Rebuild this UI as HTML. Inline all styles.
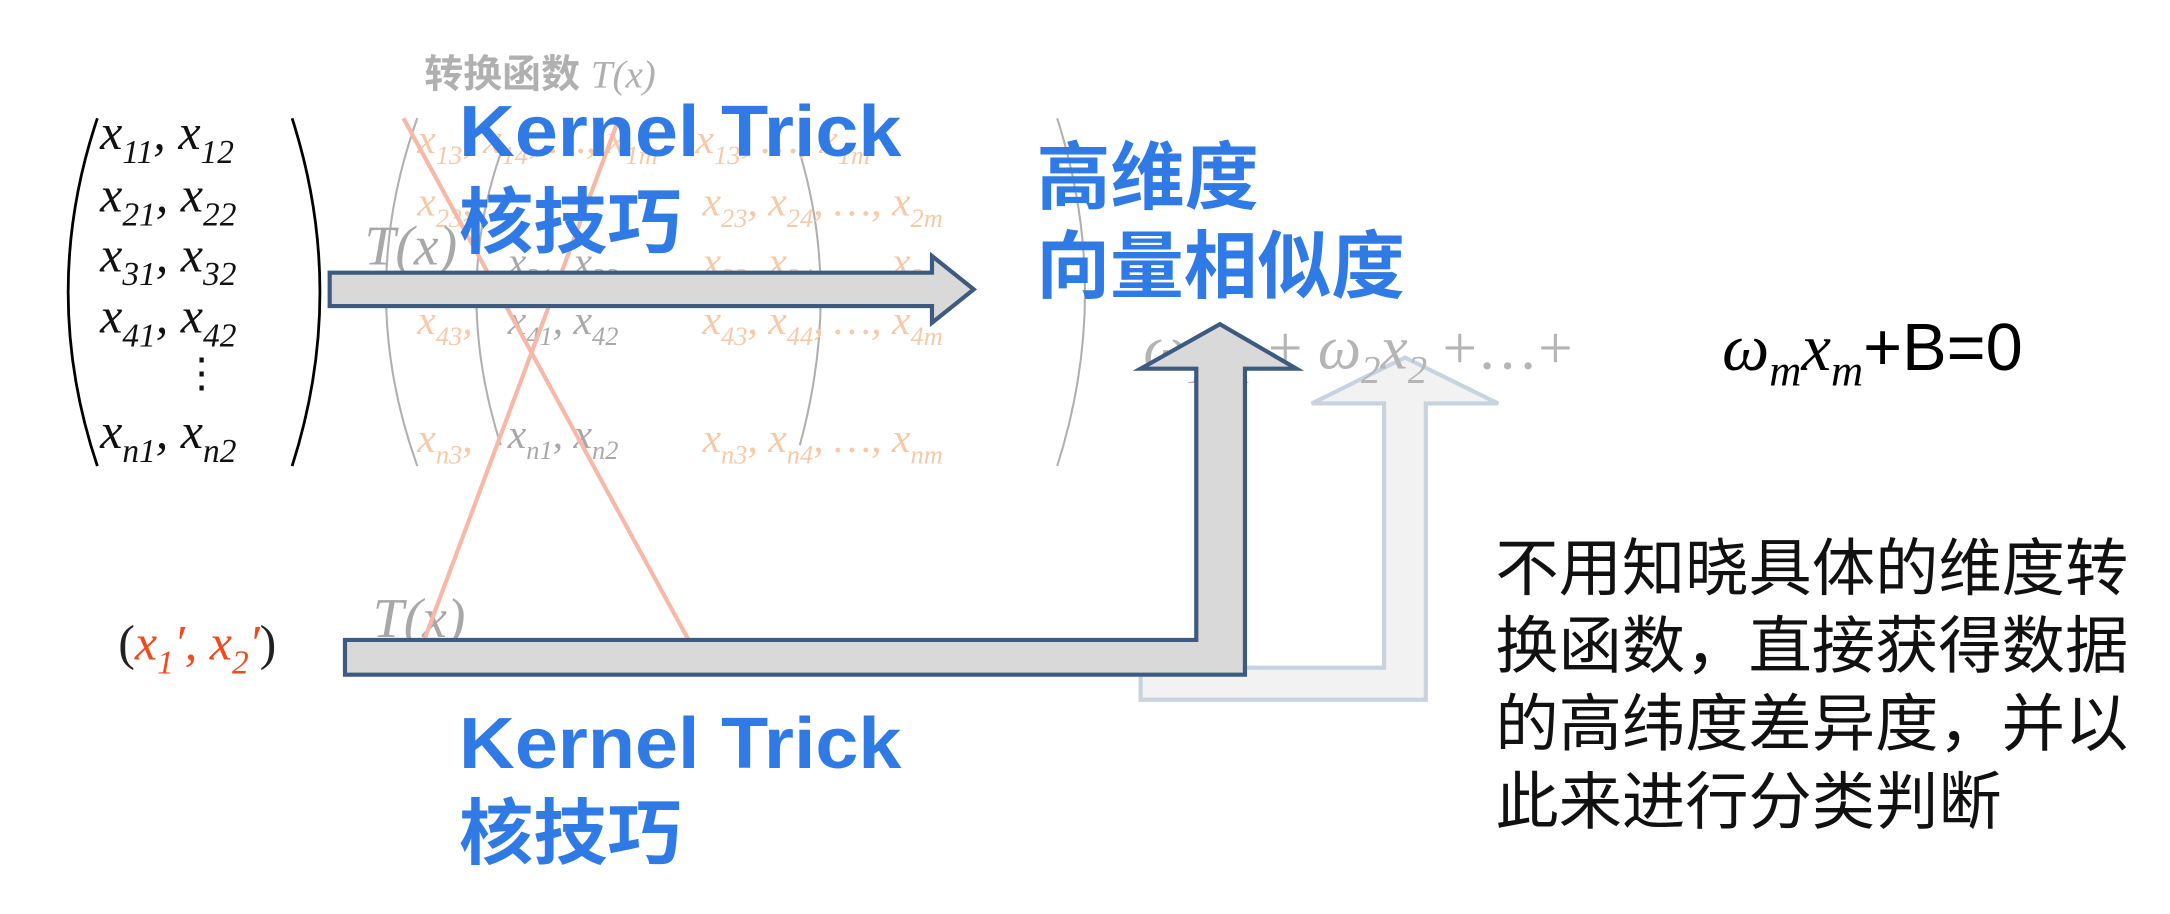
<!DOCTYPE html>
<html><head><meta charset="utf-8"><style>
html,body{margin:0;padding:0;background:#fff;width:2170px;height:914px;overflow:hidden}
svg{display:block}
.m{font-family:"Liberation Serif","DejaVu Serif",serif;font-style:italic}
.b{font-family:"Liberation Sans","Noto Sans CJK SC",sans-serif;font-weight:bold;fill:#2f7ae5}
</style></head><body>
<svg width="2170" height="914" viewBox="0 0 1560 657" xmlns="http://www.w3.org/2000/svg">
<g fill="none" stroke="#b0b0b0" stroke-width="1.5">
<path d="M300 85 Q255 210 300 335"/>
<path d="M760 85 Q800 210 760 335"/>
<path d="M360 110 Q325 210 360 320"/>
<path d="M575 110 Q605 210 575 320"/>
</g>
<g class="m" fill="#f6c9a8" font-size="30">
<text x="300" y="110">x<tspan font-size="19" dy="8">13</tspan><tspan dy="-8">, x</tspan><tspan font-size="19" dy="8">14</tspan><tspan dy="-8">, …, x</tspan><tspan font-size="19" dy="8">1m</tspan></text>
<text x="500" y="110">x<tspan font-size="19" dy="8">13</tspan><tspan dy="-8">, …, x</tspan><tspan font-size="19" dy="8">1m</tspan></text>
<text x="300" y="155">x<tspan font-size="19" dy="8">23</tspan><tspan dy="-8">, </tspan></text>
<text x="505" y="155">x<tspan font-size="19" dy="8">23</tspan><tspan dy="-8">, x</tspan><tspan font-size="19" dy="8">24</tspan><tspan dy="-8">, …, x</tspan><tspan font-size="19" dy="8">2m</tspan></text>
<text x="505" y="198">x<tspan font-size="19" dy="8">33</tspan><tspan dy="-8">, x</tspan><tspan font-size="19" dy="8">34</tspan><tspan dy="-8">, …, x</tspan><tspan font-size="19" dy="8">3m</tspan></text>
<text x="300" y="240">x<tspan font-size="19" dy="8">43</tspan><tspan dy="-8">, </tspan></text>
<text x="505" y="240">x<tspan font-size="19" dy="8">43</tspan><tspan dy="-8">, x</tspan><tspan font-size="19" dy="8">44</tspan><tspan dy="-8">, …, x</tspan><tspan font-size="19" dy="8">4m</tspan></text>
<text x="300" y="325">x<tspan font-size="19" dy="8">n3</tspan><tspan dy="-8">, </tspan></text>
<text x="505" y="325">x<tspan font-size="19" dy="8">n3</tspan><tspan dy="-8">, x</tspan><tspan font-size="19" dy="8">n4</tspan><tspan dy="-8">, …, x</tspan><tspan font-size="19" dy="8">nm</tspan></text>
</g>
<g class="m" fill="#a8a8a8" font-size="30">
<text x="262" y="190" font-size="40">T(x)</text>
<text x="365" y="198">x<tspan font-size="19" dy="8">31</tspan><tspan dy="-8">, x</tspan><tspan font-size="19" dy="8">32</tspan></text>
<text x="365" y="240">x<tspan font-size="19" dy="8">41</tspan><tspan dy="-8">, x</tspan><tspan font-size="19" dy="8">42</tspan></text>
<text x="365" y="322">x<tspan font-size="19" dy="8">n1</tspan><tspan dy="-8">, x</tspan><tspan font-size="19" dy="8">n2</tspan></text>
<text x="268" y="458" font-size="40">T(x)</text>
</g>
<text x="305" y="63" font-family="Liberation Sans,Noto Sans CJK SC,sans-serif" font-weight="bold" font-size="28" fill="#b0b0b0">转换函数 <tspan class="m" font-weight="normal">T(x)</tspan></text>
<g stroke="#f8b8a8" stroke-width="3">
<line x1="290" y1="85" x2="495" y2="460"/>
<line x1="445" y1="85" x2="305" y2="460"/>
</g>
<g fill="none" stroke="#000" stroke-width="2">
<path d="M70 85 Q28 210 70 335"/>
<path d="M210 85 Q250 210 210 335"/>
</g>
<g class="m" fill="#111" font-size="36">
<text x="72" y="107">x<tspan font-size="24" dy="10">11</tspan><tspan dy="-10">, x</tspan><tspan font-size="24" dy="10">12</tspan></text>
<text x="72" y="152">x<tspan font-size="24" dy="10">21</tspan><tspan dy="-10">, x</tspan><tspan font-size="24" dy="10">22</tspan></text>
<text x="72" y="195">x<tspan font-size="24" dy="10">31</tspan><tspan dy="-10">, x</tspan><tspan font-size="24" dy="10">32</tspan></text>
<text x="72" y="239">x<tspan font-size="24" dy="10">41</tspan><tspan dy="-10">, x</tspan><tspan font-size="24" dy="10">42</tspan></text>
<text x="130" y="278" font-style="normal" font-size="30">⋮</text>
<text x="72" y="322">x<tspan font-size="24" dy="10">n1</tspan><tspan dy="-10">, x</tspan><tspan font-size="24" dy="10">n2</tspan></text>
</g>
<path d="M237 196 H670 V184 L700 208 L670 232 V220 H237 Z" fill="#d9d9d9" stroke="#3d5a80" stroke-width="3"/>
<text class="b" x="330" y="112" font-size="52" textLength="318" lengthAdjust="spacingAndGlyphs">Kernel Trick</text>
<text class="b" x="330" y="178" font-size="52" textLength="160" lengthAdjust="spacingAndGlyphs">核技巧</text>
<text class="b" x="745" y="146" font-size="53" textLength="160" lengthAdjust="spacingAndGlyphs">高维度</text>
<text class="b" x="745" y="210" font-size="53" textLength="265" lengthAdjust="spacingAndGlyphs">向量相似度</text>
<path d="M820 480 H995 V290 H943 L1010 257 L1077 290 H1025 V503 H820 Z" fill="#f2f2f2" stroke="#c9d3df" stroke-width="3"/>
<text class="m" x="822" y="265" font-size="44" fill="#b5b5b5">ω<tspan font-size="28" dy="10">1</tspan><tspan dy="-10">x</tspan><tspan font-size="28" dy="10">1</tspan><tspan dy="-10" font-style="normal"> + </tspan>ω<tspan font-size="28" dy="10">2</tspan><tspan dy="-10">x</tspan><tspan font-size="28" dy="10">2</tspan><tspan dy="-10" font-style="normal"> +…+</tspan></text>
<text class="m" x="1238" y="266" font-size="48" fill="#000">ω<tspan font-size="32" dy="11">m</tspan><tspan dy="-11">x</tspan><tspan font-size="32" dy="11">m</tspan><tspan dy="-11" font-style="normal" font-family="Liberation Sans,sans-serif">+B=0</tspan></text>
<path d="M248 460 H860 V265 H820 L877 233 L932 265 H895 V485 H248 Z" fill="#d9d9d9" stroke="#3d5a80" stroke-width="3"/>
<text x="85" y="474" font-size="36" font-family="Liberation Serif,serif" fill="#222">(<tspan class="m" fill="#f04a1e">x</tspan><tspan class="m" fill="#f04a1e" font-size="24" dy="10">1</tspan><tspan class="m" fill="#f04a1e" dy="-10">′, x</tspan><tspan class="m" fill="#f04a1e" font-size="24" dy="10">2</tspan><tspan class="m" fill="#f04a1e" dy="-10">′</tspan>)</text>
<text class="b" x="330" y="552" font-size="52" textLength="318" lengthAdjust="spacingAndGlyphs">Kernel Trick</text>
<text class="b" x="330" y="617" font-size="52" textLength="160" lengthAdjust="spacingAndGlyphs">核技巧</text>
<g font-family="Liberation Sans,Noto Sans CJK SC,sans-serif" font-size="45" fill="#111">
<text x="1075" y="424" textLength="455" lengthAdjust="spacingAndGlyphs">不用知晓具体的维度转</text>
<text x="1075" y="480" textLength="455" lengthAdjust="spacingAndGlyphs">换函数，直接获得数据</text>
<text x="1075" y="536" textLength="455" lengthAdjust="spacingAndGlyphs">的高纬度差异度，并以</text>
<text x="1075" y="592" textLength="364" lengthAdjust="spacingAndGlyphs">此来进行分类判断</text>
</g>
</svg>
</body></html>
